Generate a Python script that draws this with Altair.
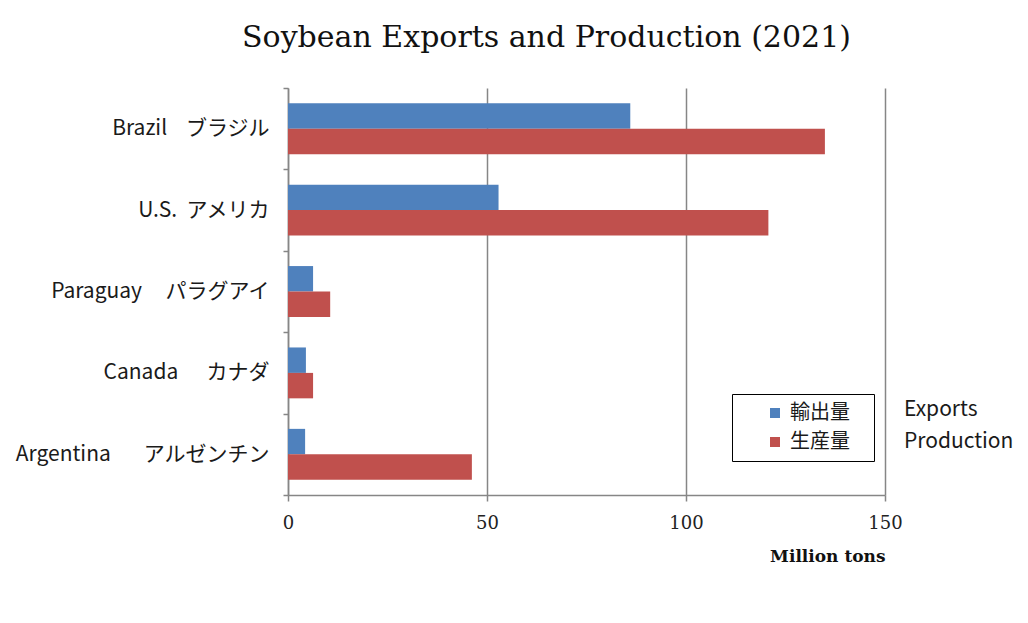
import altair as alt
import pandas as pd

countries_en = ["Brazil", "U.S.", "Paraguay", "Canada", "Argentina"]
countries_ja = ["ブラジル", "アメリカ", "パラグアイ", "カナダ", "アルゼンチン"]
series_ja = ["輸出量", "生産量"]
series_en = ["Exports", "Production"]
exports = [86.0, 52.9, 6.3, 4.5, 4.3]
production = [134.9, 120.7, 10.6, 6.3, 46.2]
colors = ["#4F81BD", "#C0504D"]
ticks = [0, 50, 100, 150]

# spacing (label formatting) between English and Japanese names
gaps = [4, 2, 5, 6, 7]
labels = [en + "\u00a0" * g + ja for en, ja, g in zip(countries_en, countries_ja, gaps)]

rows = []
for lab, e, p in zip(labels, exports, production):
    rows.append({"country": lab, "series": series_ja[0], "value": e})
    rows.append({"country": lab, "series": series_ja[1], "value": p})
df = pd.DataFrame(rows)

JP = "Noto Sans CJK JP"
SERIF = "DejaVu Serif"
GRAY = "#868686"

bars = alt.Chart(df).mark_bar().encode(
    y=alt.Y(
        "country:N",
        sort=labels,
        scale=alt.Scale(paddingInner=0, paddingOuter=0),
        axis=alt.Axis(
            title=None, tickBand="extent", labelFont=JP, labelFontSize=21,
            labelPadding=14, tickSize=5, tickWidth=1.5, domainWidth=1.5,
            domainColor=GRAY, tickColor=GRAY, grid=False, labelColor="#1a1a1a",
            labelLimit=0,
        ),
    ),
    yOffset=alt.YOffset(
        "series:N", sort=series_ja,
        scale=alt.Scale(paddingInner=0, paddingOuter=0.6),
    ),
    x=alt.X(
        "value:Q",
        scale=alt.Scale(domain=[0, 150]),
        axis=alt.Axis(
            values=ticks, title="Million tons", titleFont=SERIF, titleFontSize=17,
            titleFontWeight="bold", titleAnchor="end", titleAlign="right",
            titlePadding=16, titleColor="#111",
            labelFont=SERIF, labelFontSize=18, labelColor="#222", labelPadding=13,
            tickSize=6, tickWidth=1.5, tickColor=GRAY, domainColor=GRAY, domainWidth=1.5,
            grid=True, gridColor=GRAY, gridWidth=1.5, labelFlush=False,
        ),
    ),
    color=alt.Color(
        "series:N",
        sort=series_ja,
        scale=alt.Scale(domain=series_ja, range=colors),
        legend=alt.Legend(
            title=None, orient="none", legendX=444, legendY=306,
            strokeColor="black", fillColor="white", padding=9,
            symbolType="square", symbolSize=100, symbolOffset=24, symbolStrokeWidth=0,
            labelFont=JP, labelFontSize=20, labelColor="#1a1a1a", rowPadding=9,
            labelOffset=5,
            labelExpr="datum.label + '\u2800'",
        ),
    ),
)

note = alt.Chart(pd.DataFrame({"t": ["\n".join(series_en)]})).mark_text(
    align="left", baseline="middle", lineBreak="\n", lineHeight=32,
    font=JP, fontSize=21, color="#1a1a1a",
).encode(text="t:N", x=alt.value(616), y=alt.value(322))

chart = alt.layer(bars, note).properties(
    width=597,
    height=407,
    title=alt.TitleParams(
        "Soybean Exports and Production (2021)", font=SERIF, fontSize=30,
        fontWeight="normal", color="#111", dx=-40, offset=24, anchor="middle",
    ),
    padding={"left": 280, "top": 80, "right": 130, "bottom": 100},
    autosize=alt.AutoSizeParams(type="none"),
).configure_view(stroke=None)

chart.save("out.html", embed_options={"renderer": "svg", "actions": False})
